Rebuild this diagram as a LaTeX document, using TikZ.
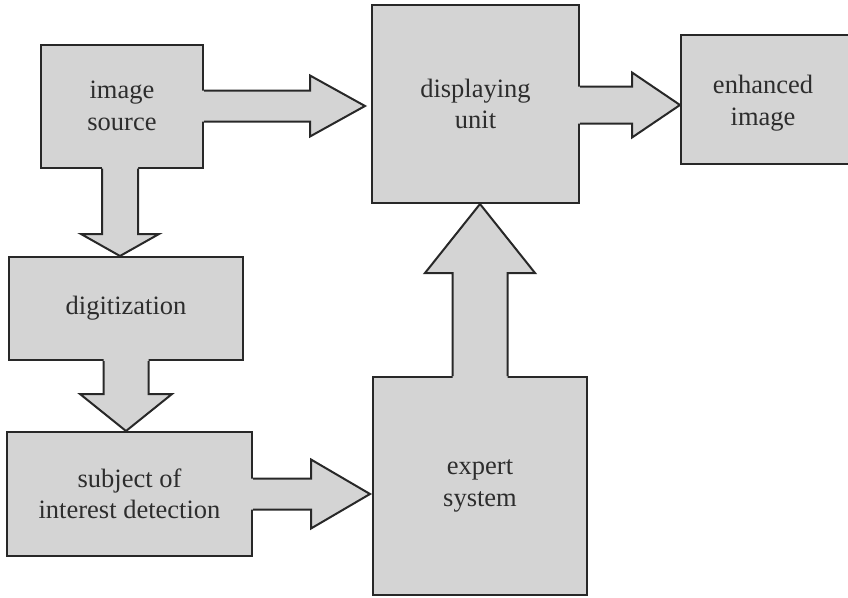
\documentclass[tikz,border=0pt]{standalone}
\usepackage{fontspec}
\setmainfont{Liberation Serif}
\usetikzlibrary{calc}
\definecolor{boxgray}{RGB}{212,212,212}
\definecolor{edge}{RGB}{40,40,40}
\definecolor{ink}{RGB}{45,45,45}
\newcommand\barrow[5]{%
  \coordinate (ba) at #1;
  \coordinate (bt) at #2;
  \coordinate (bh) at ($(bt)!#5!(ba)$);
  \coordinate (bi) at ($(ba)!-2.5pt!(bt)$);
  \fill[boxgray] ($(bi)!#3!90:(bt)$) -- ($(bh)!#3!90:(bt)$) -- ($(bh)!#4!90:(bt)$) -- (bt)
     -- ($(bh)!#4!-90:(bt)$) -- ($(bh)!#3!-90:(bt)$) -- ($(bi)!#3!-90:(bt)$) -- cycle;
  \draw[arrowline] ($(ba)!#3!90:(bt)$) -- ($(bh)!#3!90:(bt)$) -- ($(bh)!#4!90:(bt)$) -- (bt)
     -- ($(bh)!#4!-90:(bt)$) -- ($(bh)!#3!-90:(bt)$) -- ($(ba)!#3!-90:(bt)$);
}
\begin{document}
\begin{tikzpicture}[x=1pt,y=-1pt,
  lbl/.style={align=center, text=ink, inner sep=0pt, font=\fontsize{26.5}{31.5}\selectfont},
  box/.style={lbl, draw=edge, line width=2pt, fill=boxgray, rectangle},
  arrowline/.style={draw=edge, line width=2pt, line join=miter}]
\useasboundingbox (0,0) rectangle (848,597);
\fill[white] (0,0) rectangle (848,597);
\node[box, minimum width=162pt, minimum height=123pt] (src) at (122,106) {image\\source};
\node[box, minimum width=207pt, minimum height=198pt] (disp) at (475.5,104) {displaying\\unit};
\node[box, minimum width=200pt, minimum height=129pt] (enh) at (781,99.5) {};
\node[lbl] (enhl) at (763,103) {enhanced\\image};
\node[box, minimum width=234pt, minimum height=103pt] (dig) at (126,308.5) {digitization};
\node[box, minimum width=245pt, minimum height=124pt] (sub) at (129.5,494) {subject of\\interest detection};
\node[box, minimum width=214pt, minimum height=218pt] (exp) at (480,486) {expert\\system};
\barrow{($(src.east)+(0,0)$)}{($(disp.west)+(-6,2)$)}{15.5pt}{30.5pt}{55pt}
\barrow{($(disp.east)+(0,1)$)}{($(enh.west)+(0,5.5)$)}{18.5pt}{32.5pt}{48pt}
\barrow{($(src.south)+(-2,0)$)}{($(dig.north)+(-6,0)$)}{18pt}{39pt}{22pt}
\barrow{(dig.south)}{($(sub.north)+(-3.5,0)$)}{22.5pt}{46pt}{37pt}
\barrow{(sub.east)}{($(exp.west)+(-2,8)$)}{15.5pt}{34.5pt}{59pt}
\barrow{(exp.north)}{($(disp.south)+(4.5,0)$)}{27.5pt}{55pt}{69pt}
\end{tikzpicture}
\end{document}
